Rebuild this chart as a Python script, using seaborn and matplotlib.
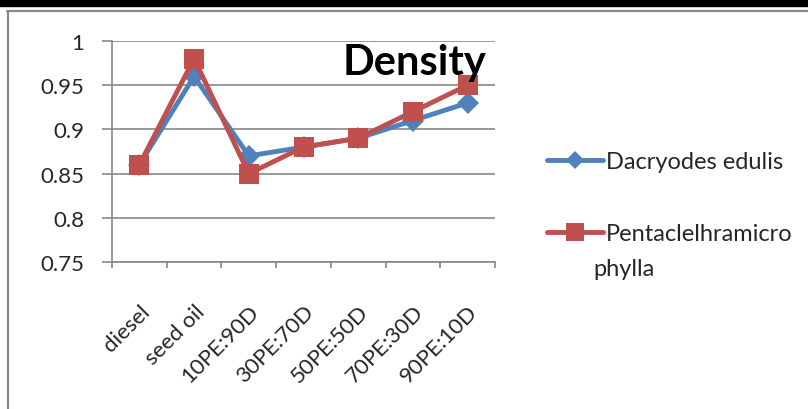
import matplotlib
matplotlib.use("Agg")
import matplotlib.pyplot as plt
from matplotlib.lines import Line2D
from matplotlib.patches import Rectangle
import seaborn as sns
import pandas as pd

# values
categories = ["diesel", "seed oil", "10PE:90D", "30PE:70D", "50PE:50D", "70PE:30D", "90PE:10D"]
dacryodes = [0.86, 0.96, 0.87, 0.88, 0.89, 0.91, 0.93]
pentaclethra = [0.86, 0.98, 0.85, 0.88, 0.89, 0.92, 0.95]
series_names = ["Dacryodes edulis", "Pentaclelhramicro\nphylla"]
y_ticks = [0.75, 0.8, 0.85, 0.9, 0.95, 1]
y_tick_labels = ["0.75", "0.8", "0.85", "0.9", "0.95", "1"]

sns.set_style("white")
plt.rcParams['font.family'] = ['Lato', 'DejaVu Sans']

df = pd.DataFrame({
    "category": categories * 2,
    "density": dacryodes + pentaclethra,
    "series": [series_names[0]] * len(categories) + [series_names[1]] * len(categories),
})

fig = plt.figure(figsize=(8.08, 4.10), dpi=100)
ax = fig.add_axes([112 / 808, 1 - 263 / 410, (495 - 112) / 808, (263 - 42) / 410])

blue, red = "#4F81BD", "#C0504D"
palette = {series_names[0]: blue, series_names[1]: red}
markers = {series_names[0]: "D", series_names[1]: "s"}
sns.lineplot(data=df, x="category", y="density", hue="series", style="series",
             palette=palette, markers=markers, dashes=False, linewidth=3.5,
             markeredgewidth=0, sort=False, ax=ax, legend=False)
for line, ms in zip(ax.lines, [11, 14.5]):
    line.set_markersize(ms)

ax.set_xlim(-0.5, len(categories) - 0.5)
ax.set_ylim(0.75, 1.0)
ax.set_yticks(y_ticks)
ax.set_yticklabels(y_tick_labels, fontsize=16)
ax.yaxis.grid(True, color="#878787", linewidth=1.2)
ax.set_axisbelow(True)
ax.set_xlabel("")
ax.set_ylabel("")

ax.set_xticks(range(len(categories)))
ax.set_xticklabels(categories, rotation=45, ha="right", va="top",
                   rotation_mode="anchor", fontsize=16)
ax.set_xticks([i - 0.5 for i in range(len(categories) + 1)], minor=True)
ax.tick_params(axis="x", which="major", bottom=True, length=0, pad=28)
ax.tick_params(axis="x", which="minor", bottom=True, length=4.5, width=1.2,
               color="#878787", direction="out")
ax.tick_params(axis="y", left=True, length=7, width=1.2, color="#878787",
               direction="out", pad=13)
for side in ["top", "right"]:
    ax.spines[side].set_visible(False)
for side in ["left", "bottom"]:
    ax.spines[side].set_color("#878787")
    ax.spines[side].set_linewidth(1.2)

ax.text(0.979, 0.851, "Density", transform=ax.transAxes, ha="right", va="baseline",
        fontsize=30, fontweight="bold", color="black")

# legend, the second label wraps onto a line below its marker like in the original
legend_labels = ["Dacryodes edulis", "Pentaclelhramicro"]
handles = [Line2D([], [], color=blue, marker="D", linewidth=3.5, markersize=9, markeredgewidth=0),
           Line2D([], [], color=red, marker="s", linewidth=3.5, markersize=12.5, markeredgewidth=0)]
fig.legend(handles, legend_labels, loc="upper left", bbox_to_anchor=(526 / 808, 1 - 131 / 410),
           frameon=False, fontsize=17, handlelength=2.35, handletextpad=0.15,
           labelspacing=2.15, borderpad=0.4)
fig.text(593 / 808, 1 - 270 / 410, "phylla", ha="left", va="center", fontsize=17)

# page decoration: black band on top, grey chart frame
fig.add_artist(Rectangle((0, 1 - 7 / 410), 1, 7 / 410, transform=fig.transFigure,
                         color="black", zorder=0))
fig.add_artist(Line2D([7 / 808, 1], [1 - 11.5 / 410] * 2, transform=fig.transFigure,
                      color="#888888", linewidth=1.6))
fig.add_artist(Line2D([8 / 808] * 2, [0, 1 - 11.5 / 410], transform=fig.transFigure,
                      color="#888888", linewidth=1.6))

fig.savefig("out.png", dpi=100)
